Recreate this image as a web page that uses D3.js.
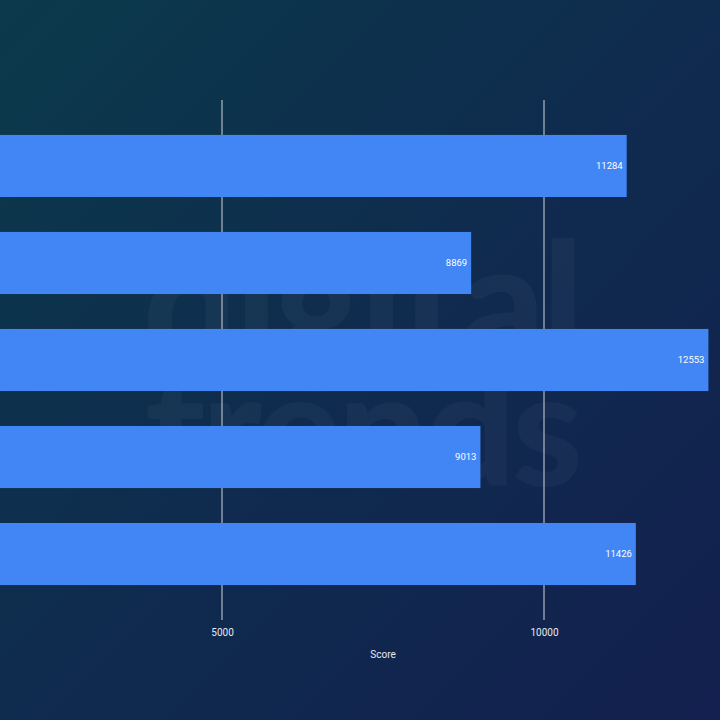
<!DOCTYPE html>
<html><head><meta charset="utf-8">
<script src="https://cdn.jsdelivr.net/npm/d3@7"></script>
<style>html,body{margin:0;padding:0;background:#0f2a4c;}svg{display:block;}</style>
</head><body>
<script>
const categories = ["Device A", "Device B", "Device C", "Device D", "Device E"];
const scores = [11284, 8869, 12553, 9013, 11426];
const gridValues = [0, 5000, 10000, 15000];
const tickLabels = [5000, 10000];
const axisTitle = "Score";

const W = 720, H = 720;
const svg = d3.select("body").append("svg").attr("width", W).attr("height", H);
const defs = svg.append("defs");
const g = defs.append("linearGradient").attr("id","bg").attr("x1","0").attr("y1","0").attr("x2","1").attr("y2","1");
g.append("stop").attr("offset","0").attr("stop-color","#0b3a4b");
g.append("stop").attr("offset","0.5").attr("stop-color","#0f2b4e");
g.append("stop").attr("offset","1").attr("stop-color","#13204f");
svg.append("rect").attr("width",W).attr("height",H).attr("fill","url(#bg)");

// watermark
const wm = svg.append("g").attr("fill","#ffffff").attr("fill-opacity",0.035)
  .attr("font-family","Lato, 'Open Sans', sans-serif").attr("font-weight",900).attr("text-anchor","middle");
wm.append("text").attr("x",362).attr("y",362).attr("font-size",166).attr("letter-spacing",-3).text("digital");
wm.append("text").attr("x",362).attr("y",486).attr("font-size",160).attr("letter-spacing",-4).text("trends");

const x = d3.scaleLinear().domain([0, 5000]).range([-100, 222]);
const y = d3.scaleBand().domain(categories).range([100, 620]).paddingInner(0.36).paddingOuter(0.36);

// grid
svg.append("g").selectAll("line").data(gridValues).join("line")
  .attr("x1", d=>x(d)).attr("x2", d=>x(d)).attr("y1",100).attr("y2",620)
  .attr("stroke","#d0d4dc").attr("stroke-width",1);

// bars
svg.append("g").selectAll("rect").data(scores).join("rect")
  .attr("x", x(0)).attr("y",(d,i)=>y(categories[i]))
  .attr("width", d=>x(d)-x(0)).attr("height", y.bandwidth())
  .attr("fill","#4285f4");

svg.append("g").selectAll("text").data(scores).join("text")
  .attr("x", d=>x(d)-4).attr("y",(d,i)=>y(categories[i])+y.bandwidth()/2)
  .attr("dy","0.35em").attr("text-anchor","end")
  .attr("font-family","Roboto, sans-serif").attr("font-size",9.5).attr("fill","#ffffff")
  .text(d=>d);

// x axis
const ax = svg.append("g").attr("transform","translate(0,620)")
  .call(d3.axisBottom(x).tickValues(tickLabels).tickSize(0).tickPadding(9).tickFormat(d3.format("d")));
ax.select(".domain").remove();
ax.selectAll("text").attr("font-family","Roboto, sans-serif").attr("font-size",10).attr("fill","#e6e8ee");

svg.append("text").attr("x",383).attr("y",658).attr("text-anchor","middle")
  .attr("font-family","Roboto, sans-serif").attr("font-size",10).attr("fill","#e6e8ee").text(axisTitle);
</script>
</body></html>
